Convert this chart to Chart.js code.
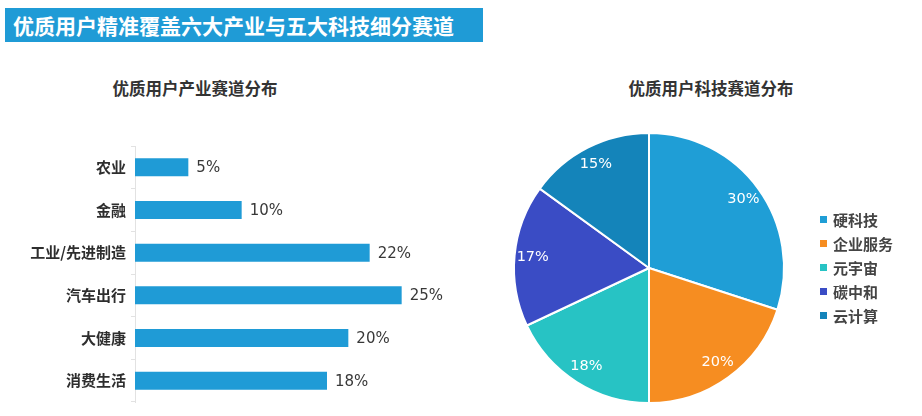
<!DOCTYPE html>
<html>
<head>
<meta charset="utf-8">
<script src="https://cdn.jsdelivr.net/npm/chart.js@4.4.1/dist/chart.umd.min.js"></script>
<style>
    body { margin: 0; width: 922px; height: 416px; background: #fff; position: relative; overflow: hidden; font-family: "Noto Sans CJK SC", sans-serif; }
    #banner { position: absolute; left: 5px; top: 8px; width: 478px; height: 34px; background: #1F9BD6; color: #fff; font-weight: bold; font-size: 21px; line-height: 34px; padding-left: 8px; box-sizing: border-box; }
    .title { position: absolute; top: 76px; font-weight: bold; font-size: 16.5px; color: #333; text-align: center; width: 300px; }
    #barWrap { position: absolute; left: 0; top: 0; width: 460px; height: 416px; }
    #pieWrap { position: absolute; left: 500px; top: 0; width: 422px; height: 416px; }
    #legend { position: absolute; left: 820px; top: 208px; }
    .item { height: 24px; line-height: 24px; font-size: 15px; font-weight: bold; color: #444; white-space: nowrap; }
    .sw { display: inline-block; width: 7px; height: 7px; margin-right: 6px; vertical-align: middle; position: relative; top: -2px; }
</style>
</head>
<body>
<div id="banner">优质用户精准覆盖六大产业与五大科技细分赛道</div>
<div class="title" style="left:45px">优质用户产业赛道分布</div>
<div class="title" style="left:561px">优质用户科技赛道分布</div>
<div id="barWrap"><canvas id="barChart"></canvas></div>
<div id="pieWrap"><canvas id="pieChart"></canvas></div>
<div id="legend"></div>
<script>
const industryLabels = ["农业", "金融", "工业/先进制造", "汽车出行", "大健康", "消费生活"];
const industryValues = [5, 10, 22, 25, 20, 18];

const techLabels = ["硬科技", "企业服务", "元宇宙", "碳中和", "云计算"];
const techValues = [30, 20, 18, 17, 15];
const techColors = ["#1F9ED6", "#F68D21", "#27C3C4", "#3A4CC5", "#1484BA"];

const barLabelPlugin = {
    id: "barLabels",
    afterDatasetsDraw(chart) {
        const ctx = chart.ctx;
        const meta = chart.getDatasetMeta(0);
        ctx.save();
        ctx.font = "15px 'DejaVu Sans'";
        ctx.fillStyle = "#383838";
        ctx.textAlign = "left";
        ctx.textBaseline = "middle";
        meta.data.forEach((bar, i) => {
            ctx.fillText(industryValues[i] + "%", bar.x + 8, bar.y + 1);
        });
        ctx.restore();
    }
};

const pieLabelPlugin = {
    id: "pieLabels",
    afterDatasetsDraw(chart) {
        const ctx = chart.ctx;
        const meta = chart.getDatasetMeta(0);
        ctx.save();
        ctx.font = "14.5px 'DejaVu Sans'";
        ctx.fillStyle = "#fff";
        ctx.textAlign = "center";
        ctx.textBaseline = "middle";
        meta.data.forEach((arc, i) => {
            const mid = (arc.startAngle + arc.endAngle) / 2;
            const r = arc.outerRadius * 0.865;
            ctx.fillText(techValues[i] + "%", arc.x + Math.cos(mid) * r, arc.y + Math.sin(mid) * r);
        });
        ctx.restore();
    }
};

new Chart(document.getElementById("barChart"), {
    type: "bar",
    data: {
        labels: industryLabels,
        datasets: [{
            data: industryValues,
            backgroundColor: "#1F9BD6",
            barPercentage: 0.42,
            categoryPercentage: 1
        }]
    },
    options: {
        indexAxis: "y",
        responsive: true,
        maintainAspectRatio: false,
        animation: false,
        layout: { padding: { top: 146, bottom: 11, left: 0, right: 5 } },
        plugins: { legend: { display: false }, tooltip: { enabled: false } },
        scales: {
            x: { display: false, min: 0, max: 30 },
            y: {
                afterFit(scale) { scale.width = 135; },
                grid: { offset: true, drawOnChartArea: false, tickLength: 4, color: "#e2e2e2" },
                border: { display: true, color: "#e2e2e2", dash: [2, 2] },
                ticks: { color: "#2e2e2e", padding: 5, font: { family: "Noto Sans CJK SC", size: 15, weight: "bold" } }
            }
        }
    },
    plugins: [barLabelPlugin]
});

new Chart(document.getElementById("pieChart"), {
    type: "pie",
    data: {
        labels: techLabels,
        datasets: [{
            data: techValues,
            backgroundColor: techColors,
            borderColor: "#fff",
            borderWidth: 2
        }]
    },
    options: {
        responsive: true,
        maintainAspectRatio: false,
        animation: false,
        layout: { padding: { left: 13, right: 137, top: 132, bottom: 12 } },
        plugins: { legend: { display: false }, tooltip: { enabled: false } }
    },
    plugins: [pieLabelPlugin]
});

const legend = document.getElementById("legend");
techLabels.forEach((name, i) => {
    const row = document.createElement("div");
    row.className = "item";
    row.innerHTML = '<span class="sw" style="background:' + techColors[i] + '"></span>' + name;
    legend.appendChild(row);
});
</script>
</body>
</html>
